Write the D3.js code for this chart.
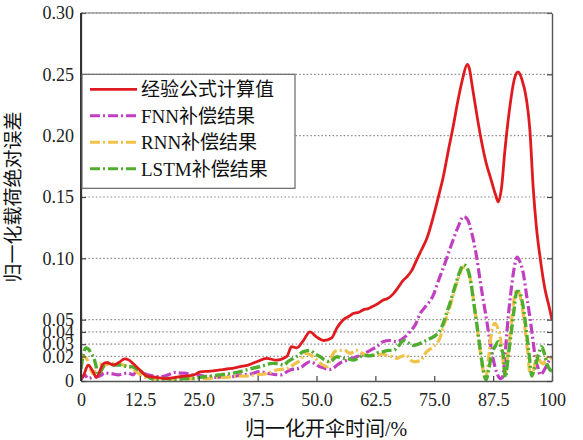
<!DOCTYPE html>
<html>
<head>
<meta charset="utf-8">
<script src="https://cdn.jsdelivr.net/npm/d3@7"></script>
<style>
    body { margin: 0; background: #fff; }
    svg { display: block; }
    .tick text { font-family: "Liberation Serif", "Times New Roman", serif; font-size: 18px; fill: #222; }
</style>
</head>
<body>
<div class="container"></div>
<script>
// ---- data ----
var xTicks = [0, 12.5, 25, 37.5, 50, 62.5, 75, 87.5, 100];
var yTicks = [0, 0.02, 0.03, 0.04, 0.05, 0.10, 0.15, 0.20, 0.25, 0.30];
var seriesNames = ["经验公式计算值", "FNN补偿结果", "RNN补偿结果", "LSTM补偿结果"];

var empiricalX = [0, 0.5, 1.5, 2.5, 3.3, 4.7, 5.5, 6.9, 8, 9.3, 10.2, 11.1, 12.5, 14, 16, 18, 20, 22, 24, 25.3, 27.5, 29.5, 31.5, 33.8, 35.5, 37.3, 39.4, 41.5, 43.7, 44.7, 45.8, 47.2, 48.6, 50, 51.5, 53.2, 54.3, 55.7, 57, 57.8, 59, 59.9, 61, 62, 63, 64.2, 65, 66.3, 67.3, 68.4, 69.2, 70.2, 71.3, 72.3, 73.5, 74.8, 76, 77, 78, 79, 80, 81, 82, 82.5, 83, 84, 85, 86, 87, 88, 88.6, 89.3, 90, 91, 92, 92.8, 93.6, 94.6, 95.3, 96, 96.7, 97.5, 98.5, 99.3, 100];
var empiricalY = [0.002, 0.004, 0.013, 0.008, 0.003, 0.014, 0.015, 0.013, 0.015, 0.018, 0.017, 0.014, 0.009, 0.004, 0.003, 0.002, 0.003, 0.004, 0.005, 0.0075, 0.008, 0.009, 0.010, 0.0117, 0.013, 0.0157, 0.0185, 0.017, 0.020, 0.028, 0.027, 0.033, 0.040, 0.036, 0.033, 0.035, 0.043, 0.050, 0.053, 0.055, 0.056, 0.058, 0.059, 0.061, 0.063, 0.066, 0.067, 0.071, 0.076, 0.082, 0.085, 0.090, 0.099, 0.107, 0.117, 0.134, 0.152, 0.168, 0.188, 0.207, 0.228, 0.246, 0.258, 0.254, 0.242, 0.218, 0.196, 0.178, 0.165, 0.152, 0.146, 0.158, 0.188, 0.222, 0.246, 0.252, 0.246, 0.229, 0.205, 0.158, 0.125, 0.100, 0.075, 0.062, 0.050];

var fnnX = [0, 0.8, 1.5, 2.5, 4, 5, 6.5, 7.9, 9, 10, 11, 12.1, 13, 14.2, 15.5, 17, 18.5, 19.9, 21, 22, 23.5, 24.8, 26, 27.4, 29, 30.5, 32, 34, 35.9, 38, 40, 42.3, 44.4, 46.5, 48.6, 50.7, 52.9, 55, 56.5, 58.5, 60, 61.4, 62.8, 64.1, 65.5, 67, 68.5, 69.8, 71, 72, 73, 74.8, 76, 77, 78, 79, 80, 81.2, 82, 82.6, 83.3, 84, 84.7, 85.4, 86.1, 86.8, 87.5, 88.3, 89, 89.5, 90, 90.7, 91.2, 91.8, 92.6, 93.2, 93.9, 94.6, 95.3, 96, 96.4, 97, 97.5, 98.5, 99.3, 100];
var fnnY = [0.001, 0.005, 0.002, 0.003, 0.004, 0.0065, 0.006, 0.005, 0.006, 0.0065, 0.005, 0.009, 0.007, 0.005, 0.004, 0.0035, 0.005, 0.007, 0.0065, 0.0065, 0.005, 0.005, 0.004, 0.0035, 0.003, 0.004, 0.0035, 0.005, 0.0057, 0.0076, 0.006, 0.005, 0.009, 0.0106, 0.0157, 0.0117, 0.0095, 0.0147, 0.017, 0.0198, 0.022, 0.025, 0.028, 0.032, 0.033, 0.032, 0.035, 0.040, 0.046, 0.055, 0.060, 0.070, 0.083, 0.093, 0.104, 0.115, 0.125, 0.134, 0.132, 0.126, 0.115, 0.101, 0.083, 0.066, 0.050, 0.033, 0.018, 0.0065, 0.002, 0.003, 0.020, 0.052, 0.070, 0.088, 0.101, 0.097, 0.088, 0.070, 0.052, 0.032, 0.020, 0.011, 0.005, 0.010, 0.016, 0.020];

var rnnX = [0, 0.6, 1.2, 2, 2.6, 3.3, 4, 4.7, 6, 7.9, 9, 10, 11, 12.1, 13.5, 15, 17, 19, 21, 23, 25, 27, 29, 31, 33, 35, 37, 39.4, 41.5, 43.7, 45, 46.5, 47.9, 48.8, 49.7, 51, 52.2, 53, 53.9, 55, 56, 57.1, 58.5, 59.5, 60.7, 61.8, 62.8, 64, 64.9, 66, 67, 68, 69.1, 70, 70.6, 72, 73.4, 74.8, 76.2, 77, 77.6, 78.3, 79, 79.8, 80.5, 81.2, 81.7, 82.2, 82.8, 83.3, 83.9, 84.4, 84.9, 85.4, 85.9, 86.5, 87.2, 87.9, 88.5, 89, 89.5, 90, 90.6, 91.3, 92, 92.5, 93, 93.6, 94.2, 94.8, 95.4, 96, 96.8, 97.5, 98.1, 98.6, 99.2, 100];
var rnnY = [0.018, 0.020, 0.018, 0.010, 0.006, 0.012, 0.014, 0.013, 0.014, 0.0144, 0.013, 0.0117, 0.010, 0.0065, 0.003, 0.002, 0.001, 0.002, 0.001, 0.002, 0.002, 0.002, 0.003, 0.003, 0.004, 0.004, 0.005, 0.006, 0.009, 0.010, 0.013, 0.017, 0.0225, 0.021, 0.0185, 0.014, 0.0117, 0.018, 0.024, 0.025, 0.025, 0.0225, 0.025, 0.023, 0.021, 0.021, 0.021, 0.022, 0.021, 0.020, 0.0185, 0.020, 0.021, 0.017, 0.0157, 0.0165, 0.024, 0.028, 0.035, 0.045, 0.052, 0.060, 0.070, 0.080, 0.088, 0.093, 0.093, 0.089, 0.080, 0.067, 0.050, 0.035, 0.020, 0.008, 0.001, 0.018, 0.040, 0.047, 0.043, 0.036, 0.020, 0.005, 0.020, 0.045, 0.068, 0.074, 0.072, 0.062, 0.045, 0.025, 0.005, 0.008, 0.020, 0.016, 0.014, 0.017, 0.020, 0.018];

var lstmX = [0, 0.5, 1.1, 1.6, 2.2, 2.8, 3.2, 3.6, 4.2, 5, 5.7, 7, 8.6, 9.5, 10.7, 11.8, 12.8, 14, 14.9, 16, 18, 20, 22, 24, 25.3, 27.5, 29.5, 31.5, 33.8, 36, 38, 40.8, 42, 43, 44, 45.1, 46.2, 47.2, 48.6, 49.7, 50.7, 51.8, 52.9, 54.3, 55.7, 56.8, 57.8, 59, 59.9, 61, 62, 63, 64.2, 65.2, 66.3, 67.5, 68.5, 69.5, 70.6, 71.6, 72.7, 73.8, 74.8, 76.2, 77, 77.6, 78.3, 79, 79.8, 80.5, 81.2, 81.7, 82.2, 82.8, 83.3, 83.9, 84.4, 84.9, 85.4, 86, 86.6, 87.2, 87.9, 88.6, 89.2, 89.7, 90.1, 90.7, 91.4, 92, 92.5, 93, 93.6, 94.1, 94.6, 95.2, 95.7, 96.2, 96.8, 97.3, 97.8, 98.4, 98.9, 99.6, 100];
var lstmY = [0.010, 0.022, 0.027, 0.026, 0.022, 0.018, 0.012, 0.005, 0.008, 0.013, 0.0147, 0.013, 0.013, 0.012, 0.0117, 0.010, 0.0076, 0.004, 0.002, 0.001, 0.002, 0.001, 0.002, 0.002, 0.003, 0.004, 0.005, 0.006, 0.0076, 0.010, 0.0117, 0.0144, 0.014, 0.013, 0.016, 0.0185, 0.021, 0.024, 0.025, 0.022, 0.020, 0.017, 0.0157, 0.0198, 0.0185, 0.018, 0.017, 0.019, 0.021, 0.0205, 0.021, 0.023, 0.024, 0.025, 0.025, 0.029, 0.033, 0.031, 0.029, 0.030, 0.032, 0.034, 0.036, 0.041, 0.048, 0.055, 0.063, 0.072, 0.082, 0.090, 0.0945, 0.094, 0.090, 0.080, 0.066, 0.050, 0.036, 0.022, 0.009, 0.001, 0.010, 0.022, 0.028, 0.032, 0.027, 0.020, 0.003, 0.020, 0.041, 0.060, 0.073, 0.073, 0.066, 0.055, 0.039, 0.020, 0.004, 0.009, 0.017, 0.024, 0.028, 0.022, 0.014, 0.009, 0.008];

var chart = {
    config: {
        width: 583,
        height: 440,
        margin: { top: 13, right: 31, bottom: 59, left: 81 },
        colors: ["#e01b1f", "#c13fc0", "#f0c24a", "#4fae2f"],
        dashes: [null, "10,3,2,3", "10,3,2,3", "10,3,2,3"],
        widths: [2.8, 3.2, 3.2, 3.4],
        font: "\"Liberation Serif\", \"Noto Sans CJK SC\", serif"
    }
};

var cfg = chart.config;
var innerW = cfg.width - cfg.margin.left - cfg.margin.right;
var innerH = cfg.height - cfg.margin.top - cfg.margin.bottom;

var svg = d3.select(".container").append("svg")
    .attr("width", cfg.width)
    .attr("height", cfg.height);

var g = svg.append("g")
    .attr("transform", `translate(${cfg.margin.left},${cfg.margin.top})`);

var x = d3.scaleLinear().domain([0, 100]).range([0, innerW]);
var y = d3.scaleLinear().domain([0, 0.30]).range([innerH, 0]);

// horizontal dotted grid
g.selectAll(".grid")
    .data(yTicks.filter((d) => d > 0))
    .enter().append("line")
    .attr("x1", 0).attr("x2", innerW)
    .attr("y1", (d) => y(d)).attr("y2", (d) => y(d))
    .attr("stroke", "#8a8a8a")
    .attr("stroke-width", 1.2)
    .attr("stroke-dasharray", "1.5,2.2");

// series
var series = [
    { x: empiricalX, y: empiricalY },
    { x: fnnX, y: fnnY },
    { x: rnnX, y: rnnY },
    { x: lstmX, y: lstmY }
];

var line = d3.line()
    .x((d) => x(d[0]))
    .y((d) => y(d[1]))
    .curve(d3.curveMonotoneX);

g.append("clipPath").attr("id", "clip")
    .append("rect").attr("width", innerW).attr("height", innerH + 2).attr("y", -1);

var lines = g.append("g").attr("clip-path", "url(#clip)");
[1, 2, 3, 0].forEach((i) => {
    var s = series[i];
    lines.append("path")
        .datum(d3.zip(s.x, s.y))
        .attr("fill", "none")
        .attr("stroke", cfg.colors[i])
        .attr("stroke-width", cfg.widths[i])
        .attr("stroke-dasharray", cfg.dashes[i])
        .attr("stroke-linejoin", "round")
        .attr("d", line);
});

// axes with inward ticks
var fmtX = (d) => (d === 0 || d === 100) ? String(d) : d.toFixed(1);
var fmtY = (d) => d === 0 ? "0" : d.toFixed(2);

var xAxis = g.append("g")
    .attr("transform", `translate(0,${innerH})`)
    .call(d3.axisBottom(x).tickValues(xTicks).tickFormat(fmtX).tickSizeInner(-5).tickSizeOuter(0).tickPadding(9));

var yAxis = g.append("g")
    .call(d3.axisLeft(y).tickValues(yTicks).tickFormat(fmtY).tickSizeInner(-5).tickSizeOuter(0).tickPadding(7));

g.append("g")
    .attr("transform", `translate(${innerW},0)`)
    .call(d3.axisRight(y).tickValues(yTicks).tickFormat("").tickSizeInner(-5).tickSizeOuter(0));

g.selectAll(".domain").attr("stroke", "#555").attr("stroke-width", 1.4);
g.selectAll(".tick line").attr("stroke", "#444").attr("stroke-width", 1.2);
xAxis.selectAll(".tick text").attr("dy", "0.9em");

// box frame
g.append("line").attr("x1", 0).attr("x2", innerW).attr("y1", 0).attr("y2", 0)
    .attr("stroke", "#777").attr("stroke-width", 1.2);
g.append("line").attr("x1", 0).attr("x2", 0).attr("y1", 0).attr("y2", innerH)
    .attr("stroke", "#333").attr("stroke-width", 2);

// legend
var legend = g.append("g").attr("transform", `translate(1,${y(0.25)})`);
legend.append("rect")
    .attr("width", 213).attr("height", 114)
    .attr("fill", "#fff").attr("stroke", "#666").attr("stroke-width", 1.2);

seriesNames.forEach((name, i) => {
    var row = legend.append("g").attr("transform", `translate(0,${15 + i * 26.5})`);
    row.append("line")
        .attr("x1", 8).attr("x2", 55)
        .attr("stroke", cfg.colors[i])
        .attr("stroke-width", i === 0 ? 2.6 : 3)
        .attr("stroke-dasharray", cfg.dashes[i]);
    row.append("text")
        .attr("x", 59).attr("dy", "0.36em")
        .attr("font-family", cfg.font)
        .attr("font-size", 19)
        .attr("fill", "#111")
        .text(name);
});

// axis titles
svg.append("text")
    .attr("transform", `translate(20,${cfg.margin.top + innerH / 2}) rotate(-90)`)
    .attr("text-anchor", "middle")
    .attr("font-family", cfg.font)
    .attr("font-size", 19)
    .attr("fill", "#111")
    .text("归一化载荷绝对误差");

svg.append("text")
    .attr("x", 326).attr("y", 436)
    .attr("text-anchor", "middle")
    .attr("font-family", cfg.font)
    .attr("font-size", 20)
    .attr("fill", "#111")
    .text("归一化开伞时间/%");
</script>
</body>
</html>
